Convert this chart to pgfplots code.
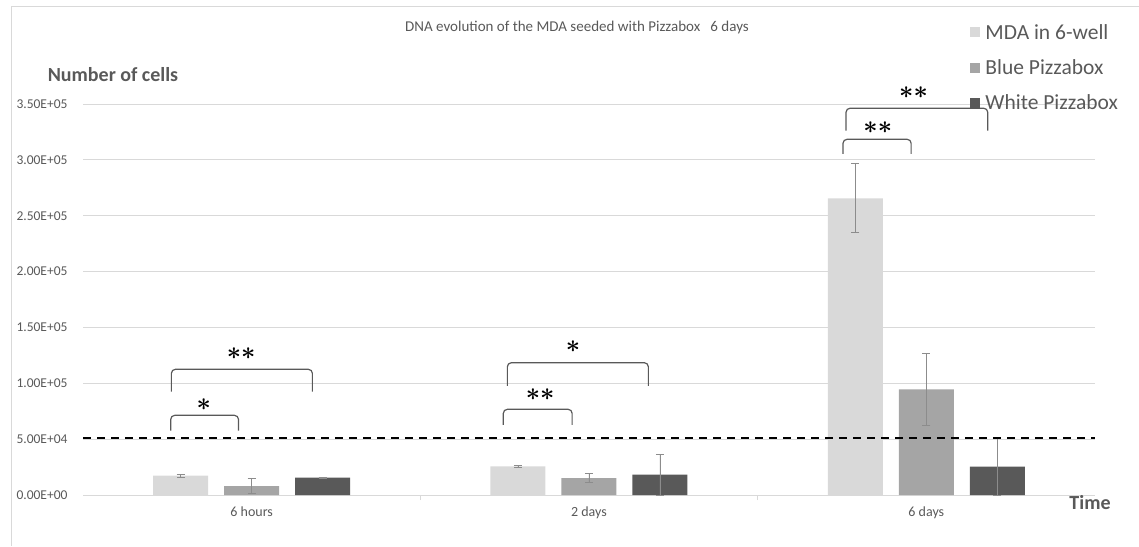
\documentclass[border=0pt]{standalone}
\usepackage{pgfplots}
\pgfplotsset{compat=1.18}
\usepackage{fontspec}
\setmainfont{Carlito}
\definecolor{cLight}{HTML}{D9D9D9}
\definecolor{cMed}{HTML}{A5A5A5}
\definecolor{cDark}{HTML}{595959}
\definecolor{txt}{HTML}{595959}
\definecolor{gridc}{HTML}{D9D9D9}
\definecolor{errc}{HTML}{8C8C8C}
\begin{document}
\begin{tikzpicture}[x=1pt,y=1pt]
\useasboundingbox (0,0) rectangle (1139,546);
\draw[gridc, line width=0.8pt] (11,0) -- (11,540) -- (1139,540);
\begin{axis}[
  at={(83pt,51pt)}, anchor=south west,
  scale only axis, width=1012pt, height=391pt,
  xmin=-0.5, xmax=2.5, ymin=0, ymax=350000,
  clip=false,
  ybar, bar width=55pt,
  axis line style={draw=none},
  ymajorgrids, grid style={gridc, line width=0.9pt},
  xtick={0,1,2}, xticklabels={6 hours,2 days,6 days},
  ytick={0,50000,100000,150000,200000,250000,300000,350000},
  yticklabels={0.00E+00,5.00E+04,1.00E+05,1.50E+05,2.00E+05,2.50E+05,3.00E+05,3.50E+05},
  scaled y ticks=false,
  major tick length=0pt,
  minor xtick={0.5,1.5}, minor tick length=5pt, tick align=outside,
  xtick pos=bottom, ytick pos=left,
  minor tick style={gridc, line width=0.9pt},
  xticklabel style={font=\fontsize{14}{16}\selectfont, text=txt, yshift=-8pt},
  yticklabel style={font=\fontsize{13.5}{15}\selectfont, text=txt, anchor=west, xshift=-70pt},
  legend style={at={(0.8738,1.215)}, anchor=north west, draw=none, fill=none,
    font=\fontsize{21.5}{24}\selectfont, text=txt, row sep=15pt},
  legend cell align=left,
  legend image code/.code={\fill[#1] (0pt,-5pt) rectangle (10pt,5pt); \path (13pt,0pt);},
  error bars/y dir=both, error bars/y explicit,
  error bars/error bar style={errc, line width=0.9pt},
  error bars/error mark options={errc, rotate=90, mark size=4pt, line width=0.9pt},
]
\addplot[fill=cLight, draw=none, bar shift=-71pt] coordinates {
  (0,17300) +- (0,1200)
  (1,25700) +- (0,800)
  (2,265600) +- (0,31000)
};
\addplot[fill=cMed, draw=none, bar shift=0pt] coordinates {
  (0,8000) +- (0,7000)
  (1,15000) +- (0,4000)
  (2,94600) +- (0,32000)
};
\addplot[fill=cDark, draw=none, bar shift=71pt] coordinates {
  (0,15500) +- (0,500)
  (1,18200) +- (0,18500)
  (2,25300) +- (0,25300)
};
\legend{MDA in 6-well, Blue Pizzabox, White Pizzabox}
\addplot[black, line width=2.3pt, dash pattern=on 8pt off 6pt, sharp plot, bar shift=0pt, forget plot, error bars/y dir=none]
  coordinates {(-0.5,51000) (2.5,51000)};
% significance brackets
\begin{scope}[cDark, line width=1.2pt, rounded corners=4pt]
\draw (axis cs:-0.240,57600) -- (axis cs:-0.240,71300) -- (axis cs:-0.039,71300) -- (axis cs:-0.039,57600);
\draw (axis cs:-0.238,92500) -- (axis cs:-0.238,112500) -- (axis cs:0.180,112500) -- (axis cs:0.180,92500);
\draw (axis cs:0.746,62700) -- (axis cs:0.746,76700) -- (axis cs:0.950,76700) -- (axis cs:0.950,62700);
\draw (axis cs:0.758,97600) -- (axis cs:0.758,118400) -- (axis cs:1.176,118400) -- (axis cs:1.176,97600);
\draw (axis cs:1.753,305300) -- (axis cs:1.753,318400) -- (axis cs:1.955,318400) -- (axis cs:1.955,305300);
\draw (axis cs:1.762,326200) -- (axis cs:1.762,346200) -- (axis cs:2.182,346200) -- (axis cs:2.182,326200);
\end{scope}
\begin{scope}[every node/.style={font=\fontsize{23}{23}\selectfont\boldmath, inner sep=0pt}]
\node at (axis cs:-0.142,80600) {$\ast$};
\node at (axis cs:-0.031,126200) {$\ast\ast$};
\node at (axis cs:0.855,89500) {$\ast\ast$};
\node at (axis cs:0.953,132800) {$\ast$};
\node at (axis cs:1.856,328800) {$\ast\ast$};
\node at (axis cs:1.962,360200) {$\ast\ast$};
\end{scope}
\end{axis}
\node[text=txt, font=\fontsize{15}{18}\selectfont] at (577,518) {DNA evolution of the MDA seeded with Pizzabox\ \ \ 6 days};
\node[text=txt, font=\bfseries\fontsize{20}{24}\selectfont] at (113,471) {Number of cells};
\node[text=txt, font=\bfseries\fontsize{20}{24}\selectfont] at (1090,43) {Time};
\end{tikzpicture}
\end{document}
